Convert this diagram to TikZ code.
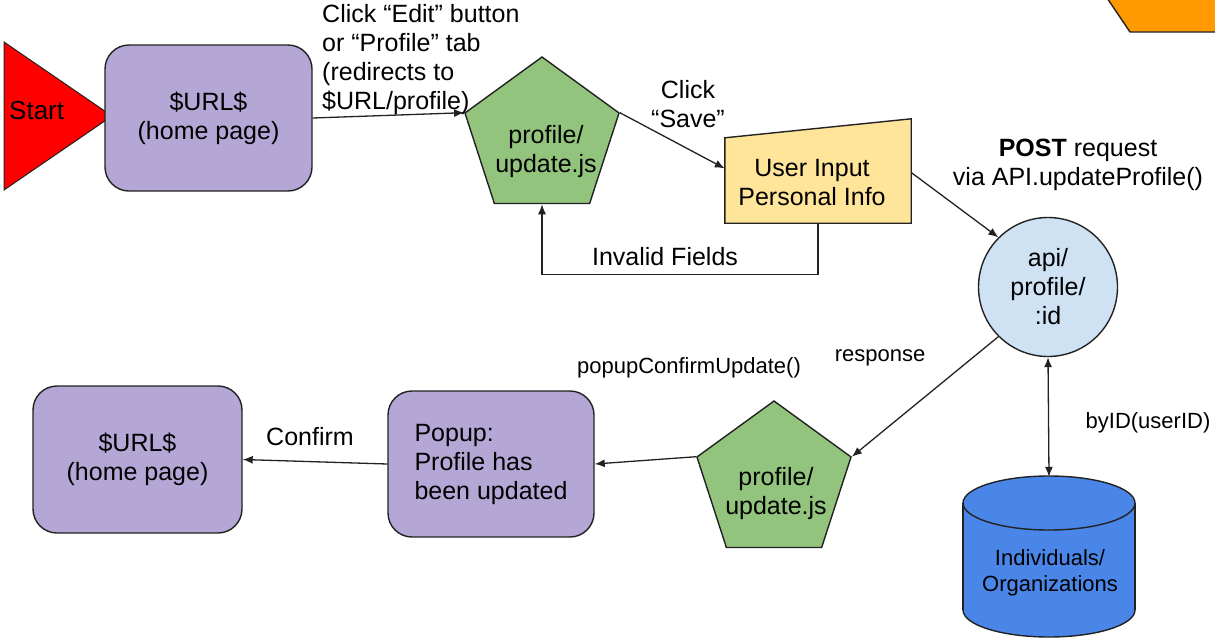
\documentclass[tikz,border=0pt]{standalone}
\usepackage{fontspec}
\setmainfont{Liberation Sans}
\usetikzlibrary{shapes.geometric,arrows.meta,calc}
\definecolor{lav}{HTML}{B4A7D6}
\definecolor{grn}{HTML}{93C47D}
\definecolor{ylw}{HTML}{FFE599}
\definecolor{lblue}{HTML}{CFE2F3}
\definecolor{dblue}{HTML}{4A86E8}
\definecolor{orng}{HTML}{FF9900}
\definecolor{edge}{HTML}{222222}
\begin{document}
\begin{tikzpicture}[x=1pt,y=-1pt,font=\fontsize{25}{29}\selectfont,
  shp/.style={draw=edge,line width=1.4pt},
  rbox/.style={shp,rectangle,rounded corners=24pt,fill=lav,inner sep=0pt,align=center},
  pent/.style={shp,regular polygon,regular polygon sides=5,minimum size=162pt,inner sep=0pt,fill=grn},
  arr/.style={line width=1.3pt,draw=edge,-{Latex[length=10pt,width=8pt]}},
  dblarr/.style={line width=1.3pt,draw=edge,{Latex[length=10pt,width=8pt]}-{Latex[length=10pt,width=8pt]}},
  lbl/.style={align=center,inner sep=0pt},
  small/.style={font=\fontsize{22}{26}\selectfont}]
\useasboundingbox (0,0) rectangle (1215,638);

% orange partial shape at top right
\draw[shp,fill=orng] (1105,-5) -- (1130,32) -- (1222,32) -- (1222,-5) -- cycle;

% start triangle
\draw[line width=1pt,draw=edge,fill=red] (4,42) -- (112,116) -- (4,190) -- cycle;
\node[lbl,font=\fontsize{26}{30}\selectfont,anchor=west] (start) at (9,111) {Start};

% boxes
\node[rbox,minimum width=207pt,minimum height=146pt] (home1) at (208.5,118) {\$URL\$\\(home page)};
\node[pent] (pent1) at (542,138) {};
\node[lbl] (p1txt) at (546,152) {profile/\\update.js};

\node[inner sep=0pt,minimum width=186pt,minimum height=85pt] (ui) at (818,180.5) {};
\draw[shp,fill=ylw] (ui.south west) -- (ui.south east) -- ([yshift=19pt]ui.north east) -- (ui.north west) -- cycle;
\node[lbl] (uitxt) at (812,183) {User Input\\Personal Info};

\node[shp,circle,fill=lblue,minimum size=139pt,inner sep=0pt,align=center] (api) at (1048,287) {api/\\profile/\\:id};

% cylinder
\node[inner sep=0pt,minimum width=172pt,minimum height=160pt] (db) at (1049,557) {};
\draw[shp,fill=dblue] (1049,610) ellipse[x radius=86,y radius=27];
\fill[dblue] (963,503) rectangle (1135,610);
\draw[shp] (963,503) -- (963,610);
\draw[shp] (1135,503) -- (1135,610);
\draw[shp,fill=dblue] (1049,503) ellipse[x radius=86,y radius=27];
\node[lbl,small] (dbtxt) at (1050,573) {Individuals/\\Organizations};

\node[pent] (pent2) at (774,482) {};
\node[lbl] (p2txt) at (776,494) {profile/\\update.js};

\node[rbox,minimum width=206pt,minimum height=146pt,align=left] (popup) at (491,464) {Popup:\\Profile has\\been updated};
\node[rbox,minimum width=209pt,minimum height=147pt] (home2) at (137.5,459.5) {\$URL\$\\(home page)};

% connectors
\draw[arr] (home1.east) -- (pent1.corner 2);
\draw[arr] (pent1.corner 5) -- ([yshift=12pt]ui.west);
\draw[arr] (ui.south) -- ++(0,51) -| (pent1.south);
\draw[arr] ([yshift=8pt]ui.east) -- (api.135);
\draw[arr] (api.225) -- (pent2.corner 5);
\draw[arr] (pent2.corner 2) -- (popup.east);
\draw[arr] (popup.west) -- (home2.east);
\draw[dblarr] (api.south) -- (db.north);

% labels
\node[lbl,align=left,anchor=west] (lEdit) at (322,60) {Click “Edit” button\\or “Profile” tab\\(redirects to\\\$URL/profile)};
\node[lbl] (lSave) at (688,104) {Click\\“Save”};
\node[lbl] (lInv) at (665,257) {Invalid Fields};
\node[lbl] (lPost) at (1078,165) {\textbf{POST} request\\via API.updateProfile()};
\node[lbl,small] (lResp) at (880,358) {response};
\node[lbl,small] (lPopup) at (689,368) {popupConfirmUpdate()};
\node[lbl,small] (lBy) at (1148,423) {byID(userID)};
\node[lbl] (lConf) at (310,437) {Confirm};
\end{tikzpicture}
\end{document}
